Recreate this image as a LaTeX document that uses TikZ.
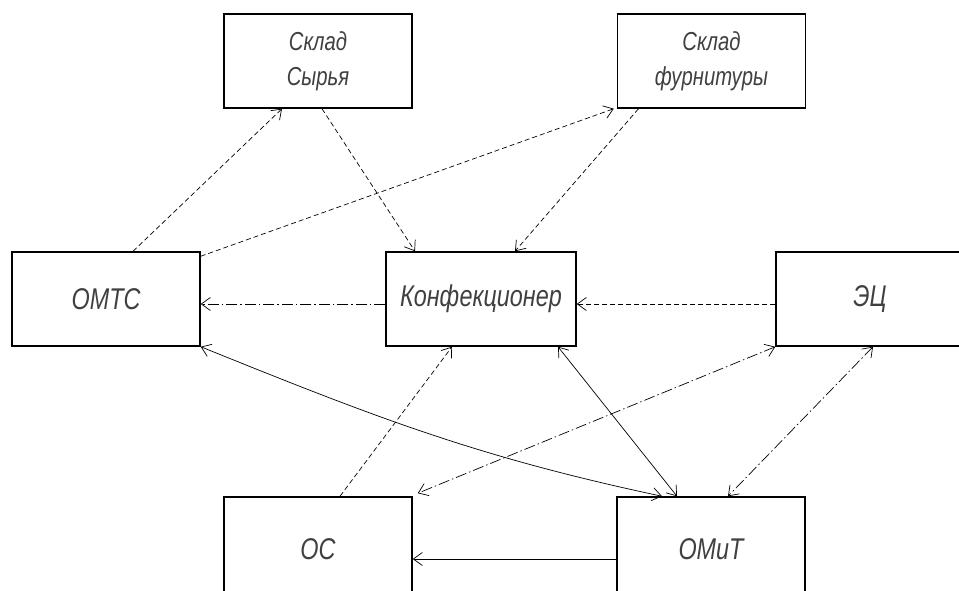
\documentclass[tikz,border=0pt]{standalone}
\usepackage{fontspec}
\setmainfont{Liberation Sans}[FakeStretch=0.78]
\usetikzlibrary{arrows.meta}
\definecolor{txt}{HTML}{404040}
\tikzset{
  box/.style={draw, line width=1.5pt, minimum width=188pt, minimum height=94pt, inner sep=0pt, align=center, text=txt, font=\fontsize{30}{34}\selectfont\itshape},
  box2/.style={box, font=\fontsize{26}{35}\selectfont\itshape},
  boxlow/.style={box, minimum height=104pt},
  conn/.style={line width=0.7pt, >={Straight Barb[length=9pt,width=13pt,line width=0.7pt]}},
  dsh/.style={conn, dash pattern=on 5pt off 3pt},
  dd/.style={conn, dash pattern=on 11pt off 3pt on 1.5pt off 3pt},
}
\begin{document}
\begin{tikzpicture}[x=1pt,y=-1pt]
\useasboundingbox (0,0) rectangle (959,591);
\clip (0,0) rectangle (959,591);
\node[box2] (sr) at (318,61) {Склад\\Сырья};
\node[box2] (sf) at (711.5,61) {Склад\\фурнитуры};
\node[box] (omts) at (106,299) {ОМТС};
\node[box, minimum width=190pt] (konf) at (481,299) {Конфекционер};
\node[box] (ec) at (870,299) {ЭЦ};
\node[boxlow] (os) at (318,549) {ОС};
\node[boxlow] (omit) at (711,549) {ОМиТ};

\draw[dsh,->] ([xshift=27pt]omts.north) -- ([xshift=-36pt]sr.south);
\draw[dsh,->] ([xshift=4pt]sr.south) -- ([xshift=-66pt]konf.north);
\draw[dsh,->] ([yshift=-5pt]omts.north east) -- ([xshift=-3pt]sf.south west);
\draw[dsh,->] ([xshift=-73pt]sf.south) -- ([xshift=34pt]konf.north);
\draw[dd,->] ([yshift=-5pt]konf.west) -- ([yshift=-5pt]omts.east);
\draw[dsh,->] ([yshift=-5pt]ec.west) -- ([yshift=-5pt]konf.east);
\draw[conn,<->] (omts.south east) to[out=-22,in=168] ([xshift=-49pt]omit.north);
\draw[dsh,->] ([xshift=22pt]os.north) -- ([xshift=-29pt]konf.south);
\draw[conn,<->] ([xshift=77pt]konf.south) -- ([xshift=-34pt]omit.north);
\draw[dd,<->] (ec.south west) -- ([xshift=5pt,yshift=3pt]os.north east);
\draw[dd,<->] ([xshift=3pt]ec.south) -- ([xshift=17pt]omit.north);
\draw[conn,->] ([yshift=-10pt]omit.west) -- ([yshift=-10pt]os.east);
\end{tikzpicture}
\end{document}
